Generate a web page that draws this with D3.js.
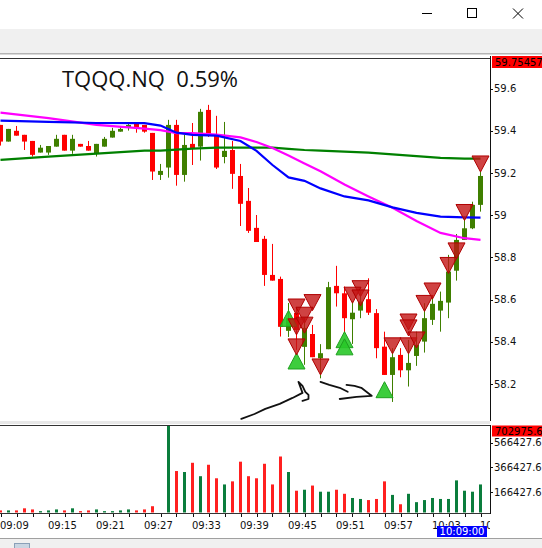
<!DOCTYPE html>
<html>
<head>
<meta charset="utf-8">
<script src="https://cdn.jsdelivr.net/npm/d3@7"></script>
<style>
  body { margin: 0; background: #fff; }
  svg { display: block; }
  text { font-family: "DejaVu Sans", sans-serif; }
</style>
</head>
<body>
<svg id="chart" width="542" height="548"></svg>
<script>
// one-minute bars 09:09 .. 10:09
const symbolLabel = "TQQQ.NQ  0.59%"
const openP  = [59.428,59.349,59.400,59.381,59.352,59.297,59.297,59.325,59.381,59.306,59.338,59.328,59.294,59.325,59.368,59.396,59.418,59.433,59.428,59.390,59.191,59.226,59.428,59.191,59.338,59.325,59.499,59.381,59.276,59.309,59.186,59.068,58.940,58.888,58.717,58.698,58.452,58.537,58.376,58.437,58.322,58.365,58.665,58.630,58.507,58.548,58.602,58.536,58.377,58.243,58.338,58.265,58.333,58.401,58.504,58.548,58.586,58.737,58.883,58.938,59.049]
const highP  = [59.428,59.409,59.423,59.381,59.352,59.333,59.328,59.381,59.381,59.381,59.338,59.352,59.338,59.371,59.414,59.417,59.433,59.433,59.428,59.390,59.243,59.452,59.452,59.381,59.437,59.504,59.523,59.471,59.442,59.352,59.243,59.129,59.001,58.902,58.864,58.709,58.584,58.561,58.513,58.480,58.389,58.684,58.760,58.662,58.591,58.643,58.701,58.555,58.448,58.370,58.370,58.409,58.448,58.583,58.614,58.638,58.812,58.911,58.986,59.064,59.207]
const lowP   = [59.330,59.349,59.377,59.309,59.278,59.297,59.286,59.325,59.306,59.291,59.325,59.306,59.278,59.325,59.368,59.396,59.401,59.391,59.391,59.167,59.167,59.178,59.140,59.159,59.238,59.259,59.371,59.219,59.246,59.125,58.949,58.916,58.873,58.665,58.690,58.425,58.423,58.362,58.291,58.327,58.227,58.365,58.567,58.442,58.390,58.512,58.527,58.322,58.243,58.115,58.232,58.188,58.286,58.349,58.480,58.448,58.512,58.690,58.883,58.934,59.017]
const closeP = [59.349,59.409,59.377,59.349,59.286,59.320,59.328,59.362,59.306,59.362,59.325,59.306,59.338,59.362,59.400,59.409,59.428,59.417,59.396,59.207,59.210,59.428,59.191,59.333,59.314,59.490,59.381,59.226,59.305,59.196,59.054,58.926,58.873,58.717,58.690,58.471,58.513,58.456,58.466,58.327,58.346,58.659,58.630,58.512,58.538,58.591,58.538,58.370,58.243,58.327,58.265,58.300,58.385,58.512,58.580,58.594,58.733,58.883,58.938,59.049,59.186]
const volumes = [17000,17000,17000,34000,25000,11000,17000,25000,17000,34000,
  11000,17000,25000,11000,11000,17000,25000,17000,25000,51000,
  0,702975.6,337000,329000,404000,295000,388000,278000,228000,253000,
  413000,295000,278000,396000,228000,455000,329000,177000,185000,219000,
  169000,169000,185000,152000,118000,110000,101000,110000,253000,143000,
  67000,152000,84000,101000,118000,110000,110000,261000,177000,169000,228000]

// moving averages read at some bars
const maBars    = [0,6,12,18,20,22,24,27,30,32,34,36,38,40,43,46,49,52,55,58,60]
const maMagenta = [59.486,59.460,59.428,59.410,59.403,59.389,59.389,59.382,59.369,59.347,59.319,59.283,59.245,59.208,59.146,59.089,59.035,58.973,58.916,58.891,58.883]
const maBlue    = [59.448,59.442,59.437,59.436,59.425,59.391,59.381,59.377,59.352,59.305,59.238,59.179,59.163,59.127,59.089,59.070,59.037,59.011,58.993,58.990,58.989]
const maGreen   = [59.262,59.278,59.292,59.306,59.306,59.311,59.316,59.320,59.320,59.320,59.320,59.314,59.309,59.306,59.301,59.297,59.288,59.280,59.272,59.268,59.268]

// signal arrows
const sellBars  = [37,39,38,37,38,37,40,45,44,45,49,51,51,51,52,53,54,56,57,58,60]
const sellPrice = [58.527,58.548,58.488,58.433,58.441,58.338,58.243,58.614,58.583,58.570,58.343,58.343,58.456,58.428,58.371,58.544,58.603,58.724,58.793,58.975,59.205]
const buyBars   = [36,37,43,43,48]
const buyPrice  = [58.549,58.347,58.448,58.414,58.211]

// hand drawn strokes, [bar, price]
const scribbles = [
  [[30.1,58.035],[31.75,58.058],[33.1,58.082],[34.9,58.106],[36.5,58.134],[37.5,58.153],[37.75,58.158],[37.25,58.210],[37.75,58.191],[38.1,58.163],[38.5,58.148],[38.5,58.129],[37.75,58.120]],
  [[40,58.210],[41.1,58.196],[42.4,58.182],[43.4,58.163]],
  [[43.25,58.196],[44.25,58.191],[45.1,58.182],[46.1,58.153],[46.4,58.144],[44.5,58.139],[42.4,58.129]]
]

const priceTicks = [58.2,58.4,58.6,58.8,59,59.2,59.4,59.6]
const priceTop = 59.75457
const volTicks = [166427.65,366427.65,566427.65]
const volTop = 702975.6
const timeTickBars = [0,6,12,18,24,30,36,42,48,54,60]
const timeTickLabels = ["09:09","09:15","09:21","09:27","09:33","09:39","09:45","09:51","09:57","10:03","10:09"]
const lastTime = "10:09:00"

const bullColor = "#3f7f00", bearColor = "#ff0000"
const volBull = "#0a7d3c", volBear = "#ff2020"

const svg = d3.select("#chart")
const plotRight = 490

let x = d3.scaleLinear().domain([0,60]).range([0.5,480.5])
let y = d3.scaleLinear().domain([58.0247, priceTop]).range([421,56])
let yv = d3.scaleLinear().domain([0, volTop]).range([512.5,426])

// window chrome
svg.append("rect").attr("x",0).attr("y",0).attr("width",542).attr("height",29).attr("fill","#fff")
svg.append("rect").attr("x",0).attr("y",29).attr("width",542).attr("height",24).attr("fill","#f0f0f0")
svg.append("rect").attr("x",0).attr("y",53).attr("width",542).attr("height",1.5).attr("fill","#b4b4b4")
svg.append("line").attr("x1",422).attr("x2",432).attr("y1",13.5).attr("y2",13.5).attr("stroke","#000")
svg.append("rect").attr("x",467.5).attr("y",8.5).attr("width",9).attr("height",9).attr("fill","none").attr("stroke","#000")
svg.append("path").attr("d","M513,8.5L523,18.5M523,8.5L513,18.5").attr("stroke","#000").attr("stroke-width",1)
svg.append("rect").attr("x",0).attr("y",538).attr("width",542).attr("height",10).attr("fill","#f0f0f0")
svg.append("line").attr("x1",0).attr("x2",542).attr("y1",538.5).attr("y2",538.5).attr("stroke","#a0a0a0")
svg.append("rect").attr("x",14.5).attr("y",543.5).attr("width",15).attr("height",6).attr("fill","#c9d5e2").attr("stroke","#8aa0b8")

// panel separator
svg.append("rect").attr("x",0).attr("y",421).attr("width",plotRight).attr("height",3).attr("fill","#e8e8e8")

// clipping for price panel
svg.append("clipPath").attr("id","pclip").append("rect").attr("x",0).attr("y",58).attr("width",plotRight).attr("height",363)
let price = svg.append("g").attr("clip-path","url(#pclip)")

let candles = d3.range(openP.length).map(function(i){
  return {i:i, o:openP[i], h:highP[i], l:lowP[i], c:closeP[i], v:volumes[i], up: closeP[i]>=openP[i]}
})

price.selectAll(".wick").data(candles).enter().append("line")
  .attr("x1",d=>x(d.i)).attr("x2",d=>x(d.i))
  .attr("y1",d=>y(d.h)).attr("y2",d=>y(d.l))
  .attr("stroke",d=>d.up?bullColor:bearColor).attr("stroke-width",1)
price.selectAll(".body").data(candles).enter().append("rect")
  .attr("x",d=>x(d.i)-2.5).attr("width",5)
  .attr("y",d=>y(Math.max(d.o,d.c)))
  .attr("height",d=>Math.max(1,y(Math.min(d.o,d.c))-y(Math.max(d.o,d.c))))
  .attr("fill",d=>d.up?bullColor:bearColor)

// moving averages
function maLine(vals,color){
  let line = d3.line().x((d,k)=>x(maBars[k])).y(d=>y(d))
  price.append("path").datum(vals).attr("d",line)
    .attr("fill","none").attr("stroke",color).attr("stroke-width",2.2)
}
maLine(maGreen,"#008000")
maLine(maMagenta,"#ff00ff")
maLine(maBlue,"#0000ff")

// signals
let tw = 8.5, th = 16
price.selectAll(".buy").data(buyBars).enter().append("path")
  .attr("d",(b,k)=>{let cx=x(b),ay=y(buyPrice[k]);return "M"+cx+","+ay+"L"+(cx+tw)+","+(ay+th)+"L"+(cx-tw)+","+(ay+th)+"Z"})
  .attr("fill","rgba(40,200,40,0.9)").attr("stroke","#1fa01f").attr("stroke-width",1)
price.selectAll(".sell").data(sellBars).enter().append("path")
  .attr("d",(b,k)=>{let cx=x(b),ay=y(sellPrice[k]);return "M"+cx+","+ay+"L"+(cx+tw)+","+(ay-th)+"L"+(cx-tw)+","+(ay-th)+"Z"})
  .attr("fill","rgba(195,20,20,0.8)").attr("stroke","#b00000").attr("stroke-width",1)

// scribbles
let sline = d3.line().x(d=>x(d[0])).y(d=>y(d[1])).curve(d3.curveLinear)
price.selectAll(".scrib").data(scribbles).enter().append("path")
  .attr("d",sline).attr("fill","none").attr("stroke","#111").attr("stroke-width",1.8)
  .attr("stroke-linejoin","round").attr("stroke-linecap","round")

// symbol title
svg.append("text").attr("x",62).attr("y",87).attr("xml:space","preserve").style("white-space","pre")
  .style("font-family","'Open Sans', sans-serif").style("font-size","22px").attr("fill","#111")
  .text(symbolLabel)

// price frame and axis
svg.append("line").attr("x1",0).attr("x2",plotRight).attr("y1",58.5).attr("y2",58.5).attr("stroke","#333")
svg.append("line").attr("x1",plotRight+0.5).attr("x2",plotRight+0.5).attr("y1",56).attr("y2",421).attr("stroke","#111")
priceTicks.forEach(function(p){
  svg.append("line").attr("x1",plotRight).attr("x2",plotRight+3).attr("y1",Math.round(y(p))+0.5).attr("y2",Math.round(y(p))+0.5).attr("stroke","#111")
  svg.append("text").attr("x",494).attr("y",y(p)).attr("dy","0.36em").style("font-size","10px").attr("fill","#111")
    .text(d3.format("~g")(p))
})
svg.append("rect").attr("x",492).attr("y",56).attr("width",50).attr("height",12).attr("fill","#ff0000")
svg.append("text").attr("x",495).attr("y",62).attr("dy","0.36em").style("font-size","10px").attr("fill","#000").text(priceTop.toFixed(5))

// volume panel
let vol = svg.append("g")
vol.append("line").attr("x1",0).attr("x2",plotRight).attr("y1",425.5).attr("y2",425.5).attr("stroke","#333")
vol.append("line").attr("x1",0).attr("x2",plotRight).attr("y1",513.5).attr("y2",513.5).attr("stroke","#333")
vol.append("line").attr("x1",plotRight+0.5).attr("x2",plotRight+0.5).attr("y1",425).attr("y2",514).attr("stroke","#111")
vol.selectAll(".vbar").data(candles).enter().append("rect")
  .attr("x",d=>x(d.i)-1.5).attr("width",3)
  .attr("y",d=>yv(d.v)).attr("height",d=>yv(0)-yv(d.v))
  .attr("fill",d=>d.up?volBull:volBear)
volTicks.forEach(function(v){
  vol.append("line").attr("x1",plotRight).attr("x2",plotRight+3).attr("y1",Math.round(yv(v))+0.5).attr("y2",Math.round(yv(v))+0.5).attr("stroke","#111")
  vol.append("text").attr("x",494).attr("y",yv(v)).attr("dy","0.36em").style("font-size","10px").attr("fill","#111").text(v.toFixed(2))
})
vol.append("rect").attr("x",492).attr("y",425.5).attr("width",50).attr("height",11).attr("fill","#ff0000")
vol.append("text").attr("x",495).attr("y",431).attr("dy","0.36em").style("font-size","10px").attr("fill","#000").text(d3.format(".1f")(volTop))

// time axis
svg.append("clipPath").attr("id","tclip").append("rect").attr("x",0).attr("y",514).attr("width",plotRight).attr("height",24)
let tax = svg.append("g").attr("clip-path","url(#tclip)")
d3.range(0,61,2).forEach(function(b){
  tax.append("line").attr("x1",Math.round(x(b))+0.5).attr("x2",Math.round(x(b))+0.5).attr("y1",514).attr("y2",517).attr("stroke","#111")
})
timeTickBars.forEach(function(b,k){
  tax.append("text").attr("x",x(b)-0.5).attr("y",529).style("font-size","10px").attr("fill","#111").text(timeTickLabels[k])
})
svg.append("rect").attr("x",437).attr("y",526).attr("width",50).attr("height",11).attr("fill","#0000ff")
svg.append("text").attr("x",462).attr("y",531.5).attr("dy","0.36em").attr("text-anchor","middle").style("font-size","10px").attr("fill","#fff").text(lastTime)
</script>
</body>
</html>
